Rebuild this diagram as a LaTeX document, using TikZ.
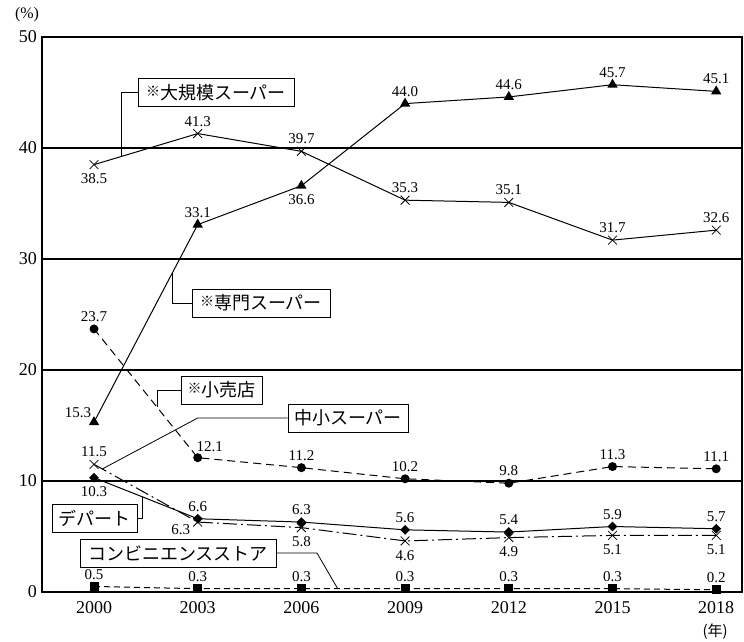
\documentclass[tikz,border=0pt]{standalone}
\usepackage{fontspec}
\setmainfont{Liberation Serif}
\newfontfamily\jpfont{Noto Sans CJK JP}
\usepackage{tikz}
\usetikzlibrary{calc,shapes.geometric,shapes.misc}
\newcommand{\kome}{\raisebox{3pt}{\fontsize{14}{14}\selectfont ※}}

\begin{document}
\begin{tikzpicture}[x=1pt,y=1pt,line cap=butt]
	\tikzstyle{hline}=[line width=1.1pt];
	\tikzstyle{series}=[line width=1pt];
	\tikzstyle{tick}=[font=\fontsize{18}{18}\selectfont,inner sep=0pt];
	\tikzstyle{val}=[font=\fontsize{15}{15}\selectfont,inner sep=1pt];
	\tikzstyle{vup}=[anchor=south,yshift=6pt];
	\tikzstyle{vdn}=[anchor=north,yshift=-8pt];
	\tikzstyle{vul}=[xshift=-16pt,yshift=10pt];
	\tikzstyle{vur}=[xshift=12pt,yshift=11pt];
	\tikzstyle{vdl}=[xshift=-17pt,yshift=-8pt];
	\tikzstyle{legbox}=[draw,line width=.8pt,fill=white,font=\jpfont\fontsize{18}{18}\selectfont,minimum height=28pt,inner xsep=5pt];
	\tikzstyle{lead}=[line width=.8pt];
	\tikzstyle{xm}=[cross out,draw,line width=.8pt,minimum size=8pt,inner sep=0pt];
	\tikzstyle{tri}=[regular polygon,regular polygon sides=3,fill,inner sep=0pt,minimum size=12pt];
	\tikzstyle{dot}=[circle,fill,inner sep=0pt,minimum size=9pt];
	\tikzstyle{sq}=[rectangle,fill,inner sep=0pt,minimum size=9pt];
	\tikzstyle{dia}=[diamond,fill,inner sep=0pt,minimum size=10pt];
%<--------------------------------------------------------------------------->%
	\useasboundingbox (0,0) rectangle (744,641);
	\begin{scope}[shift={(94,49)},x=103.7pt,y=11.1pt]
	%% frame and grid
	\coordinate (O) at (-0.5014,0);
	\coordinate (T) at (6.249,50);
	\draw[hline] (O) rectangle (T);
	\foreach \v in {10,20,30,40}
		\draw[hline] (O |- 0,\v) -- (T |- 0,\v);
	\foreach \v in {0,10,...,50}
		\node[tick,anchor=east,xshift=-5pt] (y\v) at (O |- 0,\v) {\v};
	\foreach \yr [count=\i from 0] in {2000,2003,...,2018}
		\node[tick] (x\i) at (\i,-1.44) {\yr};
	\node[font=\fontsize{16}{16}\selectfont] (unit) at (-0.646,52) {(\%)};
	\node[font=\jpfont\fontsize{15}{15}\selectfont] (nen) at (5.99,-3.6) {(年)};

	%% large supermarkets
	\foreach \v/\p [count=\i from 0] in {38.5/vdn,41.3/vup,39.7/vup,35.3/vup,35.1/vup,31.7/vup,32.6/vup}{
		\coordinate (L\i) at (\i,\v);
		\node[val,\p] (tL\i) at (L\i) {\v};
	}
	\draw[series] (L0) \foreach \i in {1,...,6}{ -- (L\i)};
	\foreach \i in {0,...,6} \node[xm] (mL\i) at (L\i) {};

	%% specialty supermarkets
	\foreach \v/\p [count=\i from 0] in {15.3/vul,33.1/vup,36.6/vdn,44.0/vup,44.6/vup,45.7/vup,45.1/vup}{
		\coordinate (S\i) at (\i,\v);
		\node[val,\p] (tS\i) at (S\i) {\v};
	}
	\draw[series] (S0) \foreach \i in {1,...,6}{ -- (S\i)};
	\foreach \i in {0,...,6} \node[tri] (mS\i) at (S\i) {};

	%% retail shops
	\foreach \v/\p [count=\i from 0] in {23.7/vup,12.1/vur,11.2/vup,10.2/vup,9.8/vup,11.3/vup,11.1/vup}{
		\coordinate (K\i) at (\i,\v);
		\node[val,\p] (tK\i) at (K\i) {\v};
	}
	\draw[series,dash pattern=on 8pt off 5pt] (K0) \foreach \i in {1,...,6}{ -- (K\i)};
	\foreach \i in {0,...,6} \node[dot] (mK\i) at (K\i) {};

	%% small and medium supermarkets
	\foreach \v/\p [count=\i from 0] in {11.5/vup,6.3/vdl,5.8/vdn,4.6/vdn,4.9/vdn,5.1/vdn,5.1/vdn}{
		\coordinate (C\i) at (\i,\v);
		\node[val,\p] (tC\i) at (C\i) {\v};
	}
	\draw[series,dash pattern=on 14pt off 4pt on 2pt off 4pt] (C0) \foreach \i in {1,...,6}{ -- (C\i)};
	\foreach \i in {0,...,6} \node[xm] (mC\i) at (C\i) {};

	%% department stores
	\foreach \v/\p [count=\i from 0] in {10.3/vdn,6.6/vup,6.3/vup,5.6/vup,5.4/vup,5.9/vup,5.7/vup}{
		\coordinate (D\i) at (\i,\v);
		\node[val,\p] (tD\i) at (D\i) {\v};
	}
	\draw[series] (D0) \foreach \i in {1,...,6}{ -- (D\i)};
	\foreach \i in {0,...,6} \node[dia] (mD\i) at (D\i) {};

	%% convenience stores
	\foreach \v/\p [count=\i from 0] in {0.5/vup,0.3/vup,0.3/vup,0.3/vup,0.3/vup,0.3/vup,0.2/vup}{
		\coordinate (Q\i) at (\i,\v);
		\node[val,\p] (tQ\i) at (Q\i) {\v};
	}
	\draw[series,dash pattern=on 6pt off 4pt] (Q0) \foreach \i in {1,...,6}{ -- (Q\i)};
	\foreach \i in {0,...,6} \node[sq] (mQ\i) at (Q\i) {};
	\end{scope}

	%% Legend boxes
	\node[legbox,minimum width=156pt] (lbox) at (216,548.5) {\kome 大規模スーパー};
	\node[legbox,minimum width=138pt] (sbox) at (261,338)   {\kome 専門スーパー};
	\node[legbox,minimum width=81pt]  (kbox) at (221.5,251) {\kome 小売店};
	\node[legbox,minimum width=120pt] (cbox) at (348,223)   {中小スーパー};
	\node[legbox,minimum width=85pt]  (dbox) at (94.5,122.5) {デパート};
	\node[legbox,minimum width=196pt] (qbox) at (178,88)    {コンビニエンスストア};
	%% Leaders
	\coordinate (lend) at ($(L0)!0.26!(L1)$);
	\coordinate (send) at ($(S0)!0.76!(S1)$);
	\coordinate (kend) at ($(K0)!0.61!(K1)$);
	\coordinate (cend) at ($(C0)!0.08!(C1)$);
	\coordinate (dend) at ($(D0)!0.47!(D1)$);
	\coordinate (qcor) at ($(Q2)!0.15!(Q3)$);
	\coordinate (qend) at ($(Q2)!0.35!(Q3)$);
	\draw[lead] (lbox.west) -| (lend);
	\draw[lead] (sbox.west) -| (send);
	\draw[lead] (kbox.west) -| (kend);
	\draw[lead] (cbox.west) -- (C1 |- cbox.west) -- (cend);
	\draw[lead] (dbox.east) -| (dend);
	\draw[lead] (qbox.east) -- (qcor |- qbox.east) -- (qend);
\end{tikzpicture}
\end{document}
